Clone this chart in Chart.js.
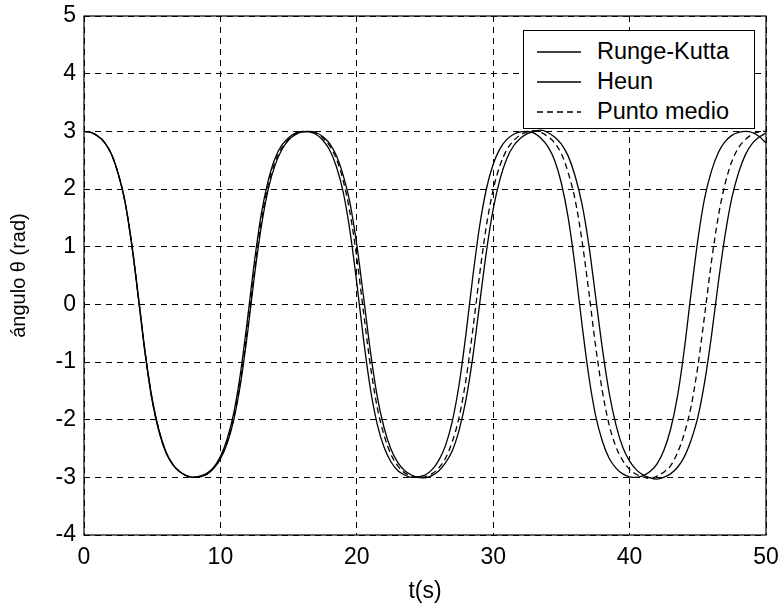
<!DOCTYPE html>
<html>
<head>
<meta charset="utf-8">
<script src="https://cdn.jsdelivr.net/npm/chart.js@4.4.1/dist/chart.umd.min.js"></script>
<style>
  body { margin: 0; background: #fff; }
  #wrap { position: relative; width: 781px; height: 605px; }
  #legend {
    position: absolute; left: 523px; top: 30px; width: 230px; height: 97px;
    border: 1px solid #000; background: #fff;
    font-family: "Liberation Sans", Arial, sans-serif; font-size: 23.5px; color: #000;
  }
  #legend .row { position: absolute; left: 0; height: 30px; width: 100%; }
  #legend svg { position: absolute; left: 13px; top: 14px; }
  #legend span { position: absolute; left: 73px; top: 2px; line-height: 26px; }
</style>
</head>
<body>
<div id="wrap">
  <canvas id="chart"></canvas>
  <div id="legend"></div>
</div>
<script>
// tiempo (s)
const time = [0, 0.5, 1, 1.5, 2, 2.5, 3, 3.5, 4, 4.5, 5, 5.5, 6, 6.5, 7, 7.5, 8, 8.5, 9, 9.5,
  10, 10.5, 11, 11.5, 12, 12.5, 13, 13.5, 14, 14.5, 15, 15.5, 16, 16.5, 17, 17.5, 18, 18.5, 19, 19.5,
  20, 20.5, 21, 21.5, 22, 22.5, 23, 23.5, 24, 24.5, 25, 25.5, 26, 26.5, 27, 27.5, 28, 28.5, 29, 29.5,
  30, 30.5, 31, 31.5, 32, 32.5, 33, 33.5, 34, 34.5, 35, 35.5, 36, 36.5, 37, 37.5, 38, 38.5, 39, 39.5,
  40, 40.5, 41, 41.5, 42, 42.5, 43, 43.5, 44, 44.5, 45, 45.5, 46, 46.5, 47, 47.5, 48, 48.5, 49, 49.5, 50];

const rungeKutta = [3.00, 2.98, 2.92, 2.81, 2.61, 2.27, 1.78, 1.03, 0.08, -0.89, -1.68, -2.21, -2.57, -2.78, -2.90, -2.97, -3.00, -2.98, -2.93, -2.83,
  -2.64, -2.33, -1.86, -1.15, -0.23, 0.75, 1.57, 2.14, 2.53, 2.76, 2.89, 2.97, 3.00, 2.99, 2.95, 2.85, 2.68, 2.39, 1.95, 1.27,
  0.37, -0.62, -1.47, -2.08, -2.48, -2.73, -2.88, -2.96, -3.00, -2.99, -2.96, -2.87, -2.71, -2.45, -2.03, -1.39, -0.52, 0.47, 1.35, 2.00,
  2.43, 2.70, 2.86, 2.95, 2.99, 3.00, 2.97, 2.88, 2.74, 2.50, 2.10, 1.50, 0.66, -0.33, -1.23, -1.92, -2.37, -2.67, -2.84, -2.94,
  -2.99, -3.00, -2.97, -2.90, -2.77, -2.54, -2.17, -1.61, -0.80, 0.18, 1.11, 1.84, 2.31, 2.63, 2.82, 2.93, 2.98, 3.00, 2.98, 2.91, 2.80];

const heun = [3.00, 2.98, 2.92, 2.81, 2.61, 2.27, 1.79, 1.05, 0.11, -0.86, -1.64, -2.18, -2.55, -2.77, -2.90, -2.97, -3.00, -2.99, -2.95, -2.85,
  -2.68, -2.41, -1.98, -1.34, -0.48, 0.50, 1.35, 1.99, 2.41, 2.68, 2.85, 2.94, 2.99, 3.00, 2.98, 2.91, 2.79, 2.58, 2.24, 1.76,
  1.03, 0.12, -0.82, -1.60, -2.14, -2.51, -2.74, -2.88, -2.96, -3.00, -3.01, -2.97, -2.89, -2.75, -2.54, -2.18, -1.66, -0.92, 0.00, 0.91,
  1.65, 2.17, 2.53, 2.75, 2.88, 2.96, 3.00, 3.02, 2.98, 2.90, 2.78, 2.57, 2.23, 1.75, 1.05, 0.15, -0.76, -1.53, -2.09, -2.48,
  -2.72, -2.87, -2.96, -3.01, -3.03, -3.00, -2.94, -2.83, -2.65, -2.36, -1.96, -1.35, -0.55, 0.37, 1.20, 1.85, 2.29, 2.60, 2.79, 2.90, 2.97];

const puntoMedio = [3.00, 2.98, 2.92, 2.81, 2.61, 2.27, 1.79, 1.04, 0.10, -0.87, -1.66, -2.19, -2.56, -2.77, -2.90, -2.97, -3.00, -2.99, -2.94, -2.84,
  -2.67, -2.38, -1.94, -1.27, -0.39, 0.59, 1.44, 2.06, 2.46, 2.71, 2.86, 2.96, 2.99, 3.00, 2.97, 2.89, 2.75, 2.52, 2.15, 1.59,
  0.81, -0.15, -1.07, -1.79, -2.27, -2.60, -2.80, -2.92, -2.98, -3.00, -2.99, -2.94, -2.84, -2.67, -2.38, -1.96, -1.31, -0.45, 0.51, 1.36,
  1.99, 2.41, 2.68, 2.84, 2.94, 2.99, 3.01, 2.98, 2.91, 2.80, 2.61, 2.28, 1.82, 1.12, 0.24, -0.71, -1.50, -2.09, -2.47, -2.71,
  -2.86, -2.95, -2.99, -3.02, -2.98, -2.91, -2.80, -2.58, -2.25, -1.78, -1.08, -0.19, 0.74, 1.52, 2.09, 2.48, 2.72, 2.86, 2.95, 2.99, 3.00];

const seriesNames = ["Runge-Kutta", "Heun", "Punto medio"];
const seriesData = [rungeKutta, heun, puntoMedio];
const seriesDash = [[], [], [6, 4]];

const font = "'Liberation Sans', Arial, sans-serif";

// marco del grafico (caja completa)
const framePlugin = {
  id: "frame",
  afterDraw(chart) {
    const a = chart.chartArea;
    const ctx = chart.ctx;
    ctx.save();
    ctx.strokeStyle = "#000";
    ctx.lineWidth = 1.2;
    ctx.setLineDash([]);
    ctx.strokeRect(a.left, a.top, a.right - a.left, a.bottom - a.top);
    ctx.restore();
  }
};

const ctx = document.getElementById("chart").getContext("2d");
new Chart(ctx, {
  type: "line",
  data: {
    datasets: seriesNames.map((name, i) => ({
      label: name,
      data: time.map((t, k) => ({ x: t, y: seriesData[i][k] })),
      borderColor: "#000",
      borderWidth: 1.3,
      borderDash: seriesDash[i],
      pointRadius: 0,
      fill: false,
      cubicInterpolationMode: "monotone"
    }))
  },
  options: {
    responsive: true,
    maintainAspectRatio: false,
    animation: false,
    layout: { padding: { top: 16, right: 15, left: 0, bottom: 0 } },
    plugins: { legend: { display: false }, tooltip: { enabled: false } },
    scales: {
      x: {
        type: "linear",
        min: 0,
        max: 50,
        ticks: { stepSize: 10, color: "#000", font: { family: font, size: 23 }, padding: 9, maxRotation: 0 },
        grid: { color: "#000", lineWidth: 1, drawTicks: false },
        border: { display: false, dash: [6, 5] },
        title: { display: true, text: "t(s)", color: "#000", font: { family: font, size: 23 }, padding: { top: 8, bottom: 0 } },
        afterFit(scale) {
          scale.height = 70;
          scale.paddingLeft = 0;
          scale.paddingRight = 0;
        }
      },
      y: {
        min: -4,
        max: 5,
        ticks: { stepSize: 1, color: "#000", font: { family: font, size: 23 }, padding: 8 },
        grid: { color: "#000", lineWidth: 1, drawTicks: false },
        border: { display: false, dash: [6, 5] },
        title: { display: true, text: "ángulo θ (rad)", color: "#000", font: { family: font, size: 20 }, padding: { top: 7, bottom: 0 } },
        afterFit(scale) {
          scale.width = 84;
          scale.paddingTop = 0;
          scale.paddingBottom = 0;
        }
      }
    }
  },
  plugins: [framePlugin]
});

// leyenda
const legend = document.getElementById("legend");
seriesNames.forEach((name, i) => {
  const row = document.createElement("div");
  row.className = "row";
  row.style.top = (5 + i * 30) + "px";
  const dash = seriesDash[i].length ? ' stroke-dasharray="' + seriesDash[i].join(",") + '"' : "";
  row.innerHTML = '<svg width="46" height="4"><line x1="0" y1="2" x2="44" y2="2" stroke="#000" stroke-width="1.3"' + dash + '/></svg><span>' + name + '</span>';
  legend.appendChild(row);
});
</script>
</body>
</html>
